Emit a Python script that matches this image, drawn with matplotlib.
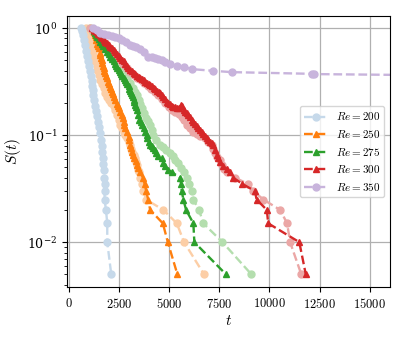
import matplotlib
matplotlib.use("Agg")
import matplotlib.pyplot as plt
from matplotlib.ticker import FuncFormatter

plt.rcParams['mathtext.fontset'] = 'cm'
plt.rcParams['font.family'] = ['DejaVu Serif']

# survival curves (t, S(t))
t_200 = [626, 676, 726, 775, 825, 875, 925, 974, 1024, 1074, 1123, 1158, 1173, 1198, 1223, 1248,
         1322, 1372, 1421, 1471, 1521, 1571, 1620, 1645, 1670, 1695, 1720, 1735, 1735, 1784, 1784,
         1784, 1854, 1918, 1918, 2117]
s_200 = [1.0, 0.944, 0.866, 0.778, 0.698, 0.614, 0.551, 0.495, 0.444, 0.399, 0.358, 0.322, 0.289,
         0.265, 0.238, 0.214, 0.188, 0.169, 0.152, 0.133, 0.120, 0.105, 0.0904, 0.0795, 0.0698,
         0.0614, 0.0541, 0.0474, 0.040, 0.035, 0.030, 0.025, 0.020, 0.015, 0.010, 0.005]

t_250 = [1198, 1240, 1272, 1322, 1350, 1372, 1421, 1450, 1486, 1546, 1575, 1605, 1640, 1670, 1700,
         1735, 1775, 1819, 1860, 1904, 1968, 2020, 2067, 2110, 2152, 2190, 2232, 2316, 2391, 2440,
         2480, 2565, 2649, 2690, 2729, 2763, 2813, 2888, 2977, 3012, 3062, 3111, 3146, 3211, 3260,
         3335, 3395, 3459, 3559, 3693, 3782, 3857, 3956, 4056, 4687, 4935, 5412]
s_250 = [1.0, 0.96, 0.924, 0.866, 0.82, 0.778, 0.714, 0.68, 0.650, 0.588, 0.555, 0.525, 0.50, 0.474,
         0.445, 0.423, 0.40, 0.382, 0.36, 0.343, 0.315, 0.30, 0.283, 0.268, 0.254, 0.240, 0.228,
         0.214, 0.196, 0.187, 0.179, 0.165, 0.155, 0.145, 0.134, 0.125, 0.116, 0.107, 0.097,
         0.0904, 0.0811, 0.0760, 0.0703, 0.0655, 0.0610, 0.0569, 0.0528, 0.0495, 0.0457, 0.040,
         0.035, 0.030, 0.025, 0.020, 0.015, 0.010, 0.005]

t_250b = [875, 949, 1024, 1098, 1158, 1223, 1272, 1322, 1397, 1421, 1486, 1571, 1645, 1735, 1819,
          1918, 2018, 2117, 2232, 2316, 2400, 2480, 2565, 2649, 2729, 2813, 2898, 2977, 3062, 3111,
          3146, 3226, 3310, 3360, 3395, 3459, 3509, 3559, 3643, 3723, 3857, 4717, 5382, 5745, 6739]
s_250b = [1.0, 0.904, 0.812, 0.729, 0.650, 0.588, 0.533, 0.488, 0.444, 0.408, 0.366, 0.329, 0.303,
          0.275, 0.249, 0.228, 0.214, 0.200, 0.188, 0.172, 0.155, 0.139, 0.125, 0.116, 0.108, 0.101,
          0.0938, 0.0871, 0.0811, 0.0745, 0.0703, 0.0655, 0.0610, 0.0563, 0.0528, 0.0474, 0.045,
          0.040, 0.035, 0.030, 0.025, 0.020, 0.015, 0.010, 0.005]

t_275 = [1223, 1270, 1322, 1370, 1421, 1500, 1571, 1645, 1720, 1810, 1904, 1985, 2067, 2150, 2232,
         2300, 2366, 2420, 2480, 2545, 2614, 2670, 2729, 2800, 2863, 2920, 2977, 3020, 3062, 3105,
         3146, 3185, 3226, 3270, 3310, 3350, 3395, 3459, 3524, 3585, 3643, 3733, 3807, 3882, 3921,
         4006, 4056, 4130, 4205, 4304, 4354, 4453, 4637, 4717, 4801, 4965, 5134, 5547, 5596, 5631,
         5710, 5845, 6208, 6257, 7833]
s_275 = [1.0, 0.95, 0.904, 0.865, 0.829, 0.79, 0.749, 0.712, 0.676, 0.64, 0.604, 0.57, 0.539, 0.512,
         0.488, 0.466, 0.444, 0.426, 0.408, 0.389, 0.370, 0.356, 0.341, 0.326, 0.311, 0.298, 0.285,
         0.272, 0.259, 0.248, 0.238, 0.226, 0.214, 0.203, 0.192, 0.182, 0.172, 0.155, 0.139, 0.132,
         0.125, 0.116, 0.108, 0.101, 0.0938, 0.0866, 0.0811, 0.0785, 0.0760, 0.0721, 0.0679, 0.0641,
         0.0610, 0.0551, 0.0516, 0.0474, 0.045, 0.040, 0.035, 0.030, 0.025, 0.020, 0.015, 0.010,
         0.005]

t_275b = [1074, 1223, 1372, 1521, 1670, 1819, 1993, 2167, 2316, 2465, 2614, 2763, 2912, 3062, 3211,
          3310, 3395, 3484, 3559, 3643, 3757, 3857, 3956, 4056, 4140, 4220, 4354, 4553, 4717, 4851,
          5050, 5174, 5298, 5447, 5596, 5745, 5879, 6009, 6128, 6208, 6491, 6705, 7659, 9100]
s_275b = [1.0, 0.924, 0.847, 0.778, 0.714, 0.647, 0.588, 0.528, 0.484, 0.444, 0.408, 0.374, 0.340,
          0.308, 0.277, 0.254, 0.238, 0.214, 0.196, 0.179, 0.162, 0.144, 0.135, 0.125, 0.112, 0.101,
          0.0904, 0.0811, 0.0778, 0.0729, 0.0679, 0.0634, 0.0588, 0.0555, 0.0495, 0.0457, 0.040,
          0.035, 0.030, 0.025, 0.020, 0.015, 0.010, 0.005]

t_300 = [1173, 1250, 1322, 1400, 1471, 1535, 1595, 1665, 1735, 1815, 1894, 1980, 2067, 2150, 2232,
         2310, 2391, 2480, 2565, 2650, 2729, 2810, 2888, 2975, 3062, 3150, 3235, 3320, 3409, 3485,
         3559, 3645, 3733, 3820, 3906, 3980, 4056, 4140, 4229, 4315, 4403, 4480, 4553, 4635, 4717,
         4800, 4885, 4965, 5050, 5130, 5214, 5300, 5383, 5497, 5570, 5646, 5745, 5810, 5880, 5960,
         6043, 6125, 6208, 6290, 6376, 6460, 6540, 6620, 6705, 6790, 6874, 6955, 7038, 7120, 7201,
         7286, 7371, 7460, 7535, 7698, 7867, 8032, 8196, 8653, 9274, 9359, 9870, 9935, 11486, 11809]
s_300 = [1.0, 0.97, 0.944, 0.914, 0.885, 0.857, 0.829, 0.803, 0.778, 0.749, 0.721, 0.694, 0.669,
         0.648, 0.627, 0.60, 0.575, 0.551, 0.528, 0.508, 0.488, 0.465, 0.444, 0.425, 0.408, 0.395,
         0.382, 0.370, 0.358, 0.349, 0.341, 0.333, 0.325, 0.316, 0.308, 0.301, 0.295, 0.286, 0.277,
         0.268, 0.259, 0.253, 0.247, 0.236, 0.226, 0.216, 0.206, 0.200, 0.194, 0.189, 0.185, 0.182,
         0.179, 0.180, 0.190, 0.186, 0.172, 0.166, 0.161, 0.154, 0.147, 0.140, 0.134, 0.128, 0.122,
         0.117, 0.112, 0.107, 0.103, 0.098, 0.0938, 0.0904, 0.0871, 0.0840, 0.0811, 0.0729, 0.0655,
         0.0607, 0.0563, 0.0516, 0.0484, 0.045, 0.040, 0.035, 0.030, 0.025, 0.020, 0.015, 0.010,
         0.005]

t_300b = [1074, 1223, 1372, 1521, 1670, 1844, 2018, 2192, 2366, 2540, 2714, 2888, 3062, 3235, 3409,
          3583, 3757, 3931, 4105, 4279, 4453, 4627, 4801, 4975, 5124, 5298, 5472, 5621, 5745, 5880,
          6043, 6208, 6376, 6540, 6789, 6953, 7122, 7211, 7286, 7410, 7535, 7619, 7733, 7867, 8281,
          8941, 9200, 9701, 10531, 10879, 11028, 11585]
s_300b = [1.0, 0.944, 0.885, 0.820, 0.761, 0.706, 0.648, 0.594, 0.545, 0.500, 0.459, 0.421, 0.391,
          0.366, 0.343, 0.325, 0.308, 0.289, 0.271, 0.254, 0.238, 0.218, 0.200, 0.182, 0.170, 0.163,
          0.157, 0.149, 0.139, 0.125, 0.116, 0.107, 0.102, 0.0975, 0.0938, 0.0871, 0.0811, 0.0745,
          0.0679, 0.0627, 0.0588, 0.0528, 0.0484, 0.045, 0.040, 0.035, 0.030, 0.025, 0.020, 0.015,
          0.010, 0.005]

t_350 = [1223, 1397, 1571, 1769, 1968, 2142, 2316, 2490, 2664, 2863, 3062, 3211, 3360, 3559, 3757,
         3956, 4140, 4304, 4453, 4637, 4801, 5050, 5383, 5760, 6128, 7201, 8116, 12142, 12206, 20000]
s_350 = [1.0, 0.954, 0.910, 0.885, 0.866, 0.847, 0.835, 0.803, 0.778, 0.737, 0.698, 0.676, 0.662,
         0.641, 0.594, 0.543, 0.536, 0.522, 0.511, 0.506, 0.484, 0.464, 0.442, 0.432, 0.414, 0.399,
         0.388, 0.374, 0.372, 0.36]

fig = plt.figure(figsize=(4.07, 3.39), dpi=100)
ax = fig.add_axes([0.165, 0.153, 0.793, 0.800])

kw = dict(ls='--', lw=1.7, ms=5)
# unlabelled companion runs drawn first, underneath
ax.plot(t_250b, s_250b, marker='o', color='#fccea6', **kw)
ax.plot(t_275b, s_275b, marker='o', color='#b4deae', **kw)
ax.plot(t_300b, s_300b, marker='o', color='#eba7a6', **kw)

ax.plot(t_200, s_200, marker='o', color='#c6d9ea', label='$Re = 200$', **kw)
ax.plot(t_250, s_250, marker='^', color='#ff7f0e', label='$Re = 250$', **kw)
ax.plot(t_275, s_275, marker='^', color='#2ca02c', label='$Re = 275$', **kw)
ax.plot(t_300, s_300, marker='^', color='#d62728', label='$Re = 300$', **kw)
ax.plot(t_350, s_350, marker='o', color='#c8b4dc', label='$Re = 350$', **kw)

ax.set_yscale('log')
ax.set_xlim(-80, 16000)
ax.set_ylim(0.0038, 1.30)
ax.set_xticks([0, 2500, 5000, 7500, 10000, 12500, 15000])
ax.xaxis.set_major_formatter(FuncFormatter(lambda v, p: f'${v:.0f}$'))
ax.tick_params(labelsize=9)
ax.grid(True, which='major', color='#b0b0b0', lw=0.9)
ax.set_xlabel('$t$', fontsize=11)
ax.set_ylabel('$S(t)$', fontsize=11)
ax.xaxis.set_label_coords(0.5, -0.098)
ax.yaxis.set_label_coords(-0.136, 0.5)
ax.legend(loc='center right', fontsize=8)

fig.savefig('out.png', dpi=100)
